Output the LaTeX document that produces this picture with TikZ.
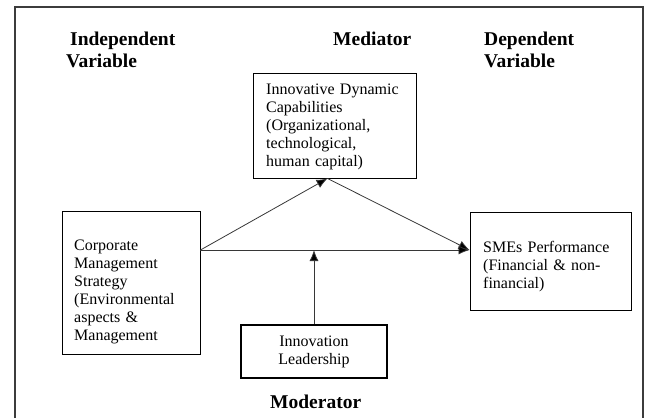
\documentclass[tikz,border=0pt]{standalone}
\usepackage{fontspec}
\setmainfont{Liberation Serif}
\usetikzlibrary{arrows.meta}

\begin{document}
\begin{tikzpicture}[x=1pt,y=1pt,yscale=-1,xscale=1,
  varbox/.style={draw=black,line width=0.9pt,inner sep=0pt},
  boxtext/.style={anchor=base west,inner sep=0pt,align=left,font=\fontsize{16}{18}\selectfont},
  heading/.style={anchor=base west,inner sep=0pt,align=left,font=\fontsize{19.5}{22}\selectfont\bfseries},
  link/.style={draw={rgb,255:red,55;green,55;blue,55},line width=0.8pt,-{Latex[length=11pt,width=9pt,fill=black]}}]
  \useasboundingbox (0,0) rectangle (645,418);
  %Frame
  \draw [draw={rgb,255:red,60;green,60;blue,60},line width=1.2pt] (15,418) -- (15,7) -- (643,7) -- (643,418);

  %Shape: Rectangle
  \node [varbox,minimum width=138,minimum height=143] (indep) at (131,282.5) {};
  %Shape: Rectangle
  \node [varbox,minimum width=163,minimum height=105] (med) at (334.5,125.5) {};
  %Shape: Rectangle
  \node [varbox,minimum width=161,minimum height=98] (dep) at (550.5,261) {};
  %Shape: Rectangle
  \node [varbox,line width=2pt,minimum width=146,minimum height=53] (mod) at (314,351.5) {};

  % Text Node
  \node [boxtext,text width=126] (indeptext) at (74,250) {Corporate\\Management\\Strategy\\(Environmental\\aspects \&\\Management};
  % Text Node
  \node [boxtext,text width=145] (medtext) at (266,94) {Innovative Dynamic\\Capabilities\\(Organizational,\\technological,\\human capital)};
  % Text Node
  \node [boxtext,text width=145] (deptext) at (483,252) {SMEs Performance\\(Financial \& non-\\financial)};
  % Text Node
  \node [inner sep=0pt,align=center,font=\fontsize{16}{18}\selectfont] (modtext) at (314,352) {Innovation\\Leadership};

  % Text Node
  \node [heading] (indephead) at (66,67) {\hspace{4pt}Independent\\Variable};
  % Text Node
  \node [heading] (medhead) at (333,45) {Mediator};
  % Text Node
  \node [heading] (dephead) at (484,67) {Dependent\\Variable};
  % Text Node
  \node [heading] (modhead) at (270,408) {Moderator};

  %Connectors
  \coordinate (hline) at (indep.east |- 0,250);
  \coordinate (medin) at ([xshift=-7pt]med.south);
  \draw [link] (hline) -- (medin);
  \draw [link] (medin) -- (hline -| dep.west);
  \draw [link] (hline) -- (hline -| dep.west);
  \draw [link] (mod.north) -- (mod.north |- hline);
\end{tikzpicture}
\end{document}
